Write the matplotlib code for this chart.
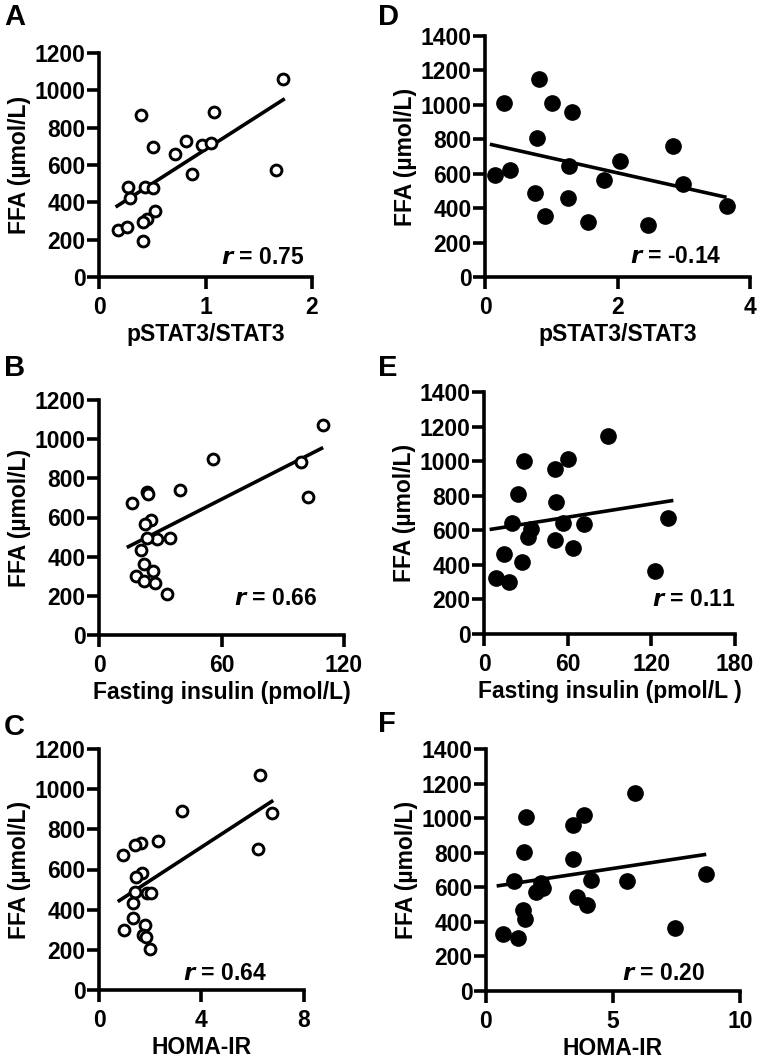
import numpy as np
import matplotlib
matplotlib.use("Agg")
import matplotlib.pyplot as plt

plt.rcParams['font.family'] = ['Liberation Sans', 'DejaVu Sans']
plt.rcParams['font.weight'] = 'bold'

# panel A: pSTAT3/STAT3 vs FFA (open circles)
a_x = [1.73, 0.39, 1.08, 0.51, 0.82, 0.71, 0.97, 1.05, 0.87, 1.66,
       0.27, 0.29, 0.43, 0.51, 0.53, 0.45, 0.41, 0.18, 0.26, 0.41]
a_y = [1061, 869, 882, 697, 728, 659, 708, 720, 552, 573,
       480, 421, 480, 477, 353, 310, 292, 254, 269, 195]
a_fit_x = [0.17, 1.73]
a_fit_y = [380, 950]

# panel B: fasting insulin vs FFA (open circles)
b_x = [109.8, 56, 39.6, 98.7, 102.3, 16, 23.3, 23.8, 25.3, 22.5,
       34.7, 28.2, 23.3, 20.4, 22.2, 26.3, 18.1, 22, 27.4, 33.4]
b_y = [1072, 899, 740, 885, 706, 672, 732, 720, 587, 565,
       494, 490, 494, 434, 363, 327, 301, 277, 267, 208]
b_fit_x = [14.4, 109]
b_fit_y = [451, 953]

# panel C: HOMA-IR vs FFA (open circles)
c_x = [6.28, 3.22, 6.77, 2.31, 1.63, 1.40, 0.92, 6.19, 1.66, 1.44,
       1.86, 2.03, 1.40, 1.34, 1.31, 1.80, 0.98, 1.73, 1.84, 2.0]
c_y = [1069, 889, 881, 740, 731, 720, 670, 701, 582, 562,
       485, 485, 490, 435, 357, 324, 299, 274, 266, 203]
c_fit_x = [0.79, 6.74]
c_fit_y = [445, 939]

# panel D: pSTAT3/STAT3 vs FFA (filled)
d_x = [0.15, 0.28, 0.37, 0.82, 0.78, 1.01, 1.31, 0.75, 0.91, 1.27,
       1.26, 1.56, 1.80, 2.04, 2.46, 2.84, 2.99, 3.66]
d_y = [591, 1012, 622, 1149, 810, 1008, 959, 490, 353, 645,
       459, 318, 566, 672, 300, 762, 543, 411]
d_fit_x = [0.10, 3.62]
d_fit_y = [769, 465]

# panel E: fasting insulin vs FFA (filled)
e_x = [89, 28.5, 60.3, 50.7, 24.4, 51.9, 20.3, 34, 31.6, 56.7,
       71.6, 50.7, 63.9, 14.4, 27.5, 8.4, 18, 122.5, 132]
e_y = [1144, 1002, 1010, 952, 810, 762, 640, 606, 563, 644,
       637, 544, 496, 463, 419, 323, 298, 362, 669]
e_fit_x = [5.3, 134.5]
e_fit_y = [606, 771]

# panel F: HOMA-IR vs FFA (filled)
f_x = [5.87, 1.56, 3.86, 3.41, 1.51, 3.41, 1.12, 2.17, 1.97, 2.26,
       4.13, 5.54, 8.65, 3.57, 3.96, 1.47, 1.54, 0.66, 1.25, 7.44]
f_y = [1147, 1008, 1018, 960, 806, 762, 636, 627, 571, 594,
       642, 636, 675, 546, 497, 469, 415, 330, 305, 366]
f_fit_x = [0.49, 8.6]
f_fit_y = [609, 789]

W, H = 757, 1060
fig = plt.figure(figsize=(W / 100, H / 100), dpi=100)


def make_panel(box, xs, ys, fx, fy, filled, xlim, xticks, ylim, yticks,
               xlabel, letter, letter_xy, rtext, rpos):
    left, top, right, bottom = box
    ax = fig.add_axes([left / W, 1 - bottom / H, (right - left) / W, (bottom - top) / H])
    if filled:
        ax.plot(xs, ys, 'o', color='black', markersize=11, clip_on=False, zorder=3)
    else:
        ax.plot(xs, ys, 'o', mfc='white', mec='black', mew=2.1, markersize=7.8,
                clip_on=False, zorder=3)
    ax.plot(fx, fy, color='black', lw=2.6, zorder=2)
    ax.set_xlim(xlim)
    ax.set_ylim(ylim)
    ax.set_xticks(xticks)
    ax.set_yticks(yticks)
    for s in ['top', 'right']:
        ax.spines[s].set_visible(False)
    for s in ['left', 'bottom']:
        ax.spines[s].set_linewidth(2.6)
    ax.tick_params(direction='out', length=8.5, width=2.6, labelsize=16.5)
    ax.tick_params(axis='x', pad=5)
    ax.tick_params(axis='y', pad=1)
    for lab in ax.get_xticklabels() + ax.get_yticklabels():
        lab.set_fontweight('bold')
    ax.set_xlabel(xlabel, fontsize=16.5, fontweight='bold', labelpad=3)
    ax.set_ylabel('FFA (µmol/L)', fontsize=16.5, fontweight='bold', labelpad=3)
    ax.text(rpos[0], rpos[1], '$\\mathbfit{r}$ = ' + rtext, transform=ax.transAxes,
            ha='right', va='center', fontsize=16.5, fontweight='bold')
    fig.text(letter_xy[0] / W, 1 - letter_xy[1] / H, letter, fontsize=21,
             fontweight='bold', ha='left', va='center')
    return ax


make_panel((99, 53, 312, 277), a_x, a_y, a_fit_x, a_fit_y, False,
           (0, 2), [0, 1, 2], (0, 1200), range(0, 1201, 200),
           'pSTAT3/STAT3', 'A', (4, 17), '0.75', (0.962, 0.085))
make_panel((99, 400, 344, 635), b_x, b_y, b_fit_x, b_fit_y, False,
           (0, 120), [0, 60, 120], (0, 1200), range(0, 1201, 200),
           'Fasting insulin (pmol/L)', 'B', (4, 368), '0.66', (0.89, 0.157))
make_panel((99, 749, 304, 990), c_x, c_y, c_fit_x, c_fit_y, False,
           (0, 8), [0, 4, 8], (0, 1200), range(0, 1201, 200),
           'HOMA-IR', 'C', (4, 727), '0.64', (0.82, 0.069))
make_panel((485, 36, 750, 277), d_x, d_y, d_fit_x, d_fit_y, True,
           (0, 4), [0, 2, 4], (0, 1400), range(0, 1401, 200),
           'pSTAT3/STAT3', 'D', (378, 17), '-0.14', (0.893, 0.084))
make_panel((484, 392, 735, 634), e_x, e_y, e_fit_x, e_fit_y, True,
           (0, 180), [0, 60, 120, 180], (0, 1400), range(0, 1401, 200),
           'Fasting insulin (pmol/L )', 'E', (378, 368), '0.11', (1.0, 0.144))
make_panel((486, 749, 740, 991), f_x, f_y, f_fit_x, f_fit_y, True,
           (0, 10), [0, 5, 10], (0, 1400), range(0, 1401, 200),
           'HOMA-IR', 'F', (378, 724), '0.20', (0.862, 0.073))

fig.savefig('out.png', dpi=100)
